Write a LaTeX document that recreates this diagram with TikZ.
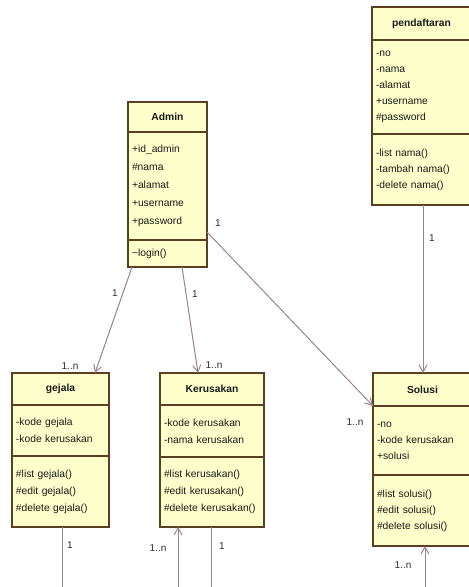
\documentclass[tikz,border=0pt]{standalone}
\usepackage{fontspec}
\setmainfont{Liberation Sans}
\usetikzlibrary{arrows.meta,calc}
\definecolor{classfill}{HTML}{FFFFCC}
\definecolor{classline}{HTML}{5A3F22}
\definecolor{assoc}{HTML}{9A8290}
\definecolor{labelc}{HTML}{2E2E2E}
\tikzset{
  part/.style={draw=classline, fill=classfill, line width=1.2pt, anchor=north west,
    inner sep=0pt, outer sep=0pt, text=black!90},
  titlepart/.style={part, font=\fontsize{10.3}{12}\selectfont\bfseries, align=center},
  listpart/.style={part, align=left, inner xsep=4pt, font=\fontsize{10.3}{16}\selectfont},
  assocline/.style={draw=assoc, line width=1pt},
  assocarrow/.style={assocline, -{Straight Barb[length=7pt,width=8pt]}},
  mult/.style={inner sep=0pt, text=labelc, font=\fontsize{10}{11}\selectfont}
}
\begin{document}
\begin{tikzpicture}[x=1pt,y=-1pt]
\useasboundingbox (0,0) rectangle (469,587);

% class pendaftaran (runs past the right edge)
\node[titlepart, minimum width=99, minimum height=33] (pendT) at (372,7) {pendaftaran};
\node[listpart, text width=91, minimum width=99, minimum height=94] (pendA) at (pendT.south west)
  {-no\\-nama\\-alamat\\+username\\\#password};
\node[listpart, text width=91, minimum width=99, minimum height=71] (pendM) at (pendA.south west)
  {-list nama()\\-tambah nama()\\-delete nama()};

% class Admin
\node[titlepart, minimum width=79, minimum height=30] (adminT) at (128,102) {Admin};
\node[listpart, font=\fontsize{10.3}{18}\selectfont, text width=71, minimum width=79, minimum height=108] (adminA) at (adminT.south west)
  {+id\_admin\\\#nama\\+alamat\\+username\\+password};
\node[listpart, text width=71, minimum width=79, minimum height=27] (adminM) at (adminA.south west)
  {\textasciitilde login()};

% class gejala
\node[titlepart, minimum width=97, minimum height=32] (gejalaT) at (12,373) {gejala};
\node[listpart, font=\fontsize{10.3}{17}\selectfont, text width=89, minimum width=97, minimum height=51] (gejalaA) at (gejalaT.south west)
  {-kode gejala\\-kode kerusakan};
\node[listpart, font=\fontsize{10.3}{17}\selectfont, text width=89, minimum width=97, minimum height=71] (gejalaM) at (gejalaA.south west)
  {\#list gejala()\\\#edit gejala()\\\#delete gejala()};

% class Kerusakan
\node[titlepart, minimum width=104, minimum height=32] (kerT) at (160,373) {Kerusakan};
\node[listpart, font=\fontsize{10.3}{17}\selectfont, text width=96, minimum width=104, minimum height=52] (kerA) at (kerT.south west)
  {-kode kerusakan\\-nama kerusakan};
\node[listpart, font=\fontsize{10.3}{17}\selectfont, text width=96, minimum width=104, minimum height=70] (kerM) at (kerA.south west)
  {\#list kerusakan()\\\#edit kerusakan()\\\#delete kerusakan()};

% class Solusi (runs past the right edge)
\node[titlepart, minimum width=99, minimum height=33] (solT) at (373,373) {Solusi};
\node[listpart, text width=91, minimum width=99, minimum height=69] (solA) at (solT.south west)
  {-no\\-kode kerusakan\\+solusi};
\node[listpart, text width=91, minimum width=99, minimum height=71] (solM) at (solA.south west)
  {\#list solusi()\\\#edit solusi()\\\#delete solusi()};

% associations from Admin
\draw[assocarrow] ($(adminM.south west)+(4,0)$) -- ($(gejalaT.north west)+(83,0)$);
\draw[assocarrow] ($(adminM.south west)+(54,0)$) -- ($(kerT.north west)+(38,0)$);
\draw[assocarrow] ($(adminA.south east)+(0,-8)$) -- (solT.south west);
% pendaftaran to Solusi
\draw[assocarrow] ($(pendM.south west)+(51,0)$) -- ($(solT.north west)+(50,0)$);

% links leaving the lower edge
\coordinate (gejalaOut) at ($(gejalaM.south west)+(50,65)$);
\coordinate (kerOutL) at ($(kerM.south west)+(18,65)$);
\coordinate (kerOutR) at ($(kerM.south west)+(51,65)$);
\coordinate (solOut) at ($(solM.south west)+(52,45)$);
\draw[assocline] ($(gejalaM.south west)+(50,0)$) -- (gejalaOut);
\draw[assocarrow] (kerOutL) -- ($(kerM.south west)+(18,0)$);
\draw[assocline] ($(kerM.south west)+(51,0)$) -- (kerOutR);
\draw[assocarrow] (solOut) -- ($(solM.south west)+(52,0)$);

% multiplicities
\node[mult] (m1) at (115,293) {1};
\node[mult] (m2) at (70,366) {1..n};
\node[mult] (m3) at (195,294) {1};
\node[mult] (m4) at (214,365) {1..n};
\node[mult] (m5) at (218,223) {1};
\node[mult] (m6) at (355,422) {1..n};
\node[mult] (m7) at (432,238) {1};
\node[mult] (m8) at (70,545) {1};
\node[mult] (m9) at (158,548) {1..n};
\node[mult] (m10) at (222,546) {1};
\node[mult] (m11) at (403,565) {1..n};
\end{tikzpicture}
\end{document}
